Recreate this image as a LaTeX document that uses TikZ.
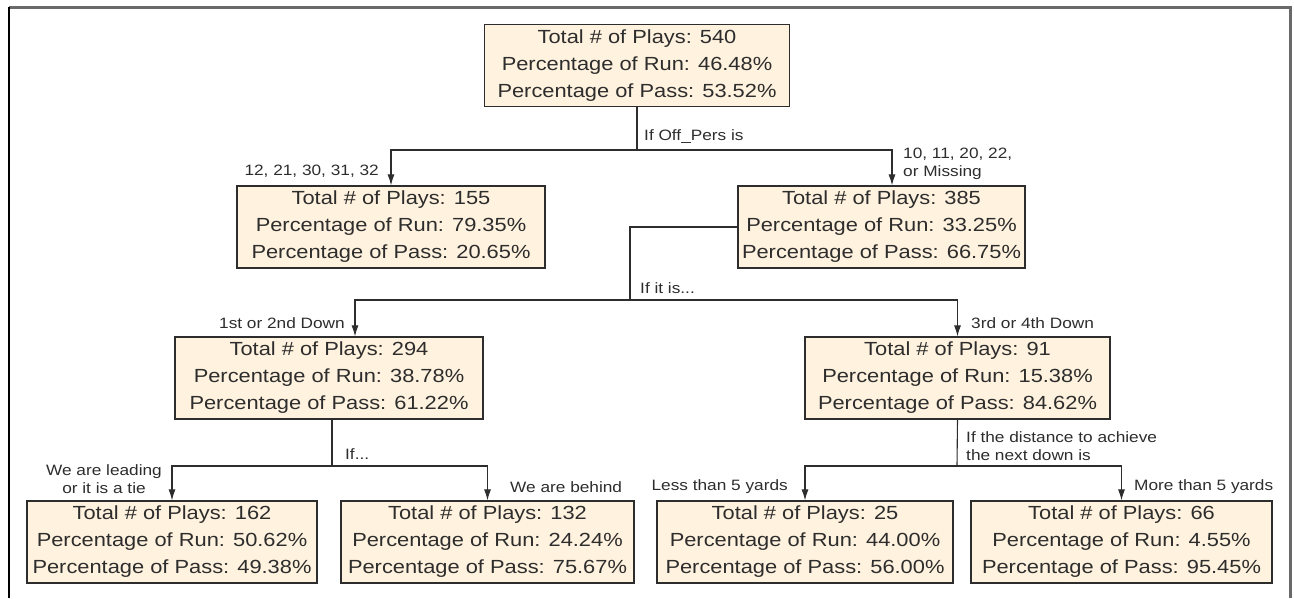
\documentclass[tikz,border=0pt]{standalone}
\usepackage{fontspec}
\setmainfont[FakeStretch=1.15]{Liberation Sans}
\usetikzlibrary{arrows.meta}
\definecolor{boxfill}{RGB}{255,242,222}
\definecolor{framegray}{RGB}{105,105,105}
\definecolor{inkgray}{RGB}{45,45,45}
\tikzset{
	box/.style = {draw = inkgray, line width = 1.2pt, fill = boxfill, text = inkgray, align = center, minimum height = 82pt, inner xsep = 4pt, font = \fontsize{19}{27}\selectfont},
	cond/.style = {text = inkgray, inner sep = 0pt, font = \fontsize{15}{18}\selectfont},
	link/.style = {draw = inkgray, line width = 1.1pt},
	arr/.style = {link, -{Latex[length = 11pt, width = 7pt]}}
}

\begin{document}
\begin{tikzpicture}[x = 1pt, y = -1pt]%play calling tree
	\useasboundingbox (0,0) rectangle (1294,598);
	\draw[framegray, line width = 3pt] (9,7) -- (1290,7) -- (1290,598);
	\draw[black, line width = 1.5pt] (9,7) -- (9,598);
	% boxes
	\node[box, minimum width = 305pt] (root) at (637,65.5) {Total \# of Plays: 540\\Percentage of Run: 46.48\%\\Percentage of Pass: 53.52\%};
	\node[box, minimum width = 308pt] (pers1) at (391,227) {Total \# of Plays: 155\\Percentage of Run: 79.35\%\\Percentage of Pass: 20.65\%};
	\node[box, minimum width = 287pt] (pers2) at (881.5,227) {Total \# of Plays: 385\\Percentage of Run: 33.25\%\\Percentage of Pass: 66.75\%};
	\node[box, minimum width = 308pt] (down1) at (329,378) {Total \# of Plays: 294\\Percentage of Run: 38.78\%\\Percentage of Pass: 61.22\%};
	\node[box, minimum width = 305pt] (down2) at (957.5,378) {Total \# of Plays: 91\\Percentage of Run: 15.38\%\\Percentage of Pass: 84.62\%};
	\node[box, minimum width = 290pt] (lead) at (172,542) {Total \# of Plays: 162\\Percentage of Run: 50.62\%\\Percentage of Pass: 49.38\%};
	\node[box, minimum width = 293pt] (behind) at (487.5,542) {Total \# of Plays: 132\\Percentage of Run: 24.24\%\\Percentage of Pass: 75.67\%};
	\node[box, minimum width = 296pt] (short) at (805,542) {Total \# of Plays: 25\\Percentage of Run: 44.00\%\\Percentage of Pass: 56.00\%};
	\node[box, minimum width = 301pt] (long) at (1121.5,542) {Total \# of Plays: 66\\Percentage of Run: 4.55\%\\Percentage of Pass: 95.45\%};
	% branch points
	\coordinate (J1) at (637,150);
	\coordinate (J2) at (630,300);
	\coordinate (J3) at (332,466);
	\coordinate (J4) at (957,466);
	% connectors
	\draw[link] (root) -- (J1);
	\draw[arr] (J1) -| (pers1.north);
	\draw[arr] (J1) -| ([xshift = 10.5pt]pers2.north);
	\draw[link] (pers2.west) -| (J2);
	\draw[arr] (J2) -| ([xshift = 26pt]down1.north);
	\draw[arr] (J2) -| (down2.north);
	\draw[link] ([xshift = 3pt]down1.south) -- (J3);
	\draw[arr] (J3) -| (lead.north);
	\draw[arr] (J3) -| (behind.north);
	\draw[link] (down2.south) -- (J4);
	\draw[arr] (J4) -| (short.north);
	\draw[arr] (J4) -| (long.north);
	% conditions
	\node[cond, anchor = west] (c1) at (644,137) {If Off\_Pers is};
	\node[cond, anchor = east] (c1a) at (379,171) {12, 21, 30, 31, 32};
	\node[cond, anchor = west, align = left] (c1b) at (903,164) {10, 11, 20, 22,\\or Missing};
	\node[cond, anchor = west] (c2) at (640,288) {If it is...};
	\node[cond, anchor = east] (c2a) at (345,323) {1st or 2nd Down};
	\node[cond, anchor = west] (c2b) at (971,323) {3rd or 4th Down};
	\node[cond, anchor = west] (c3) at (345,454) {If...};
	\node[cond, align = center] (c3a) at (104,479) {We are leading\\or it is a tie};
	\node[cond, anchor = west] (c3b) at (510,487) {We are behind};
	\node[cond, anchor = west, align = left] (c4) at (966,446) {If the distance to achieve\\the next down is};
	\node[cond, anchor = east] (c4a) at (788,487) {Less than 5 yards};
	\node[cond, anchor = west] (c4b) at (1134,487) {More than 5 yards};
\end{tikzpicture}
\end{document}
